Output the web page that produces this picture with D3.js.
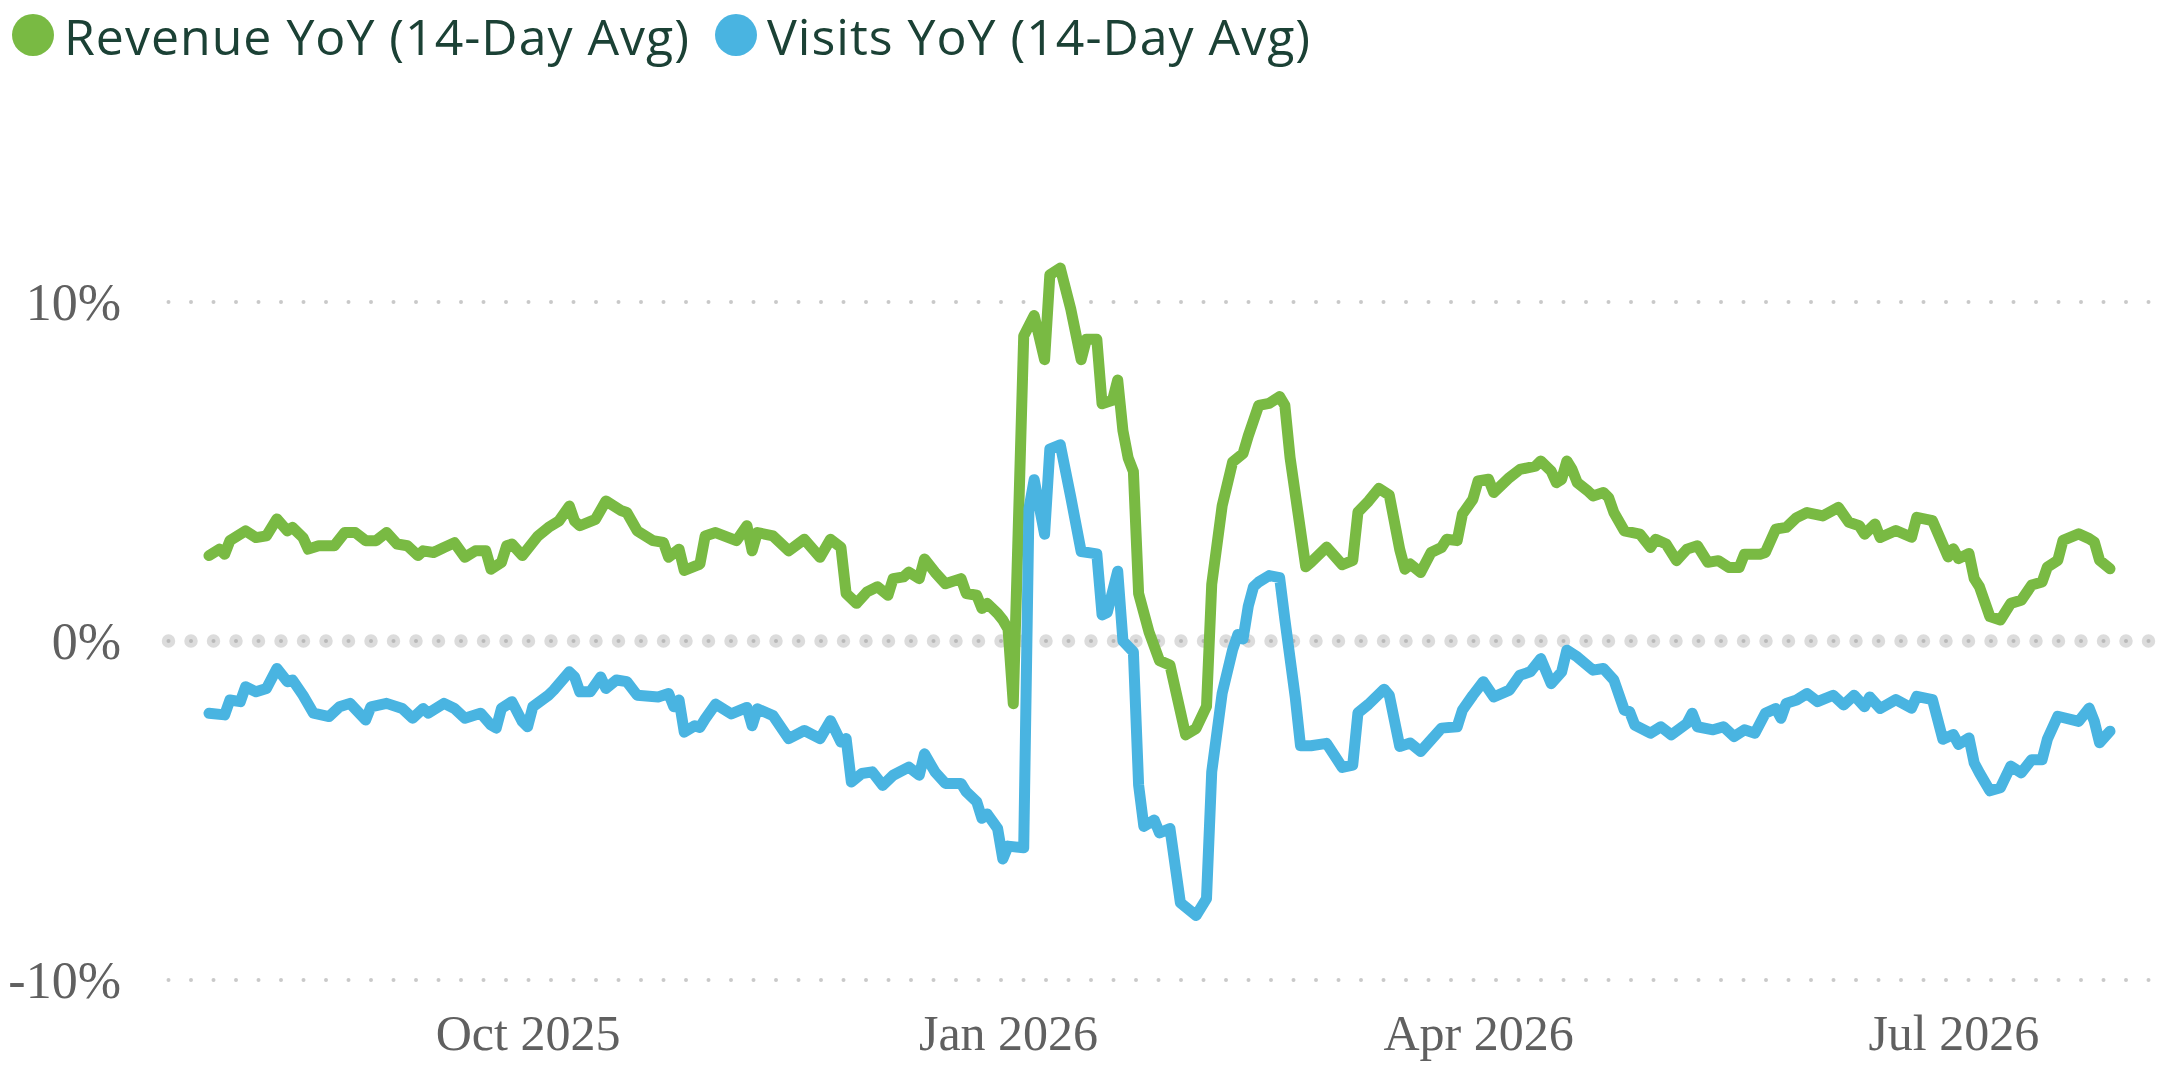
<!DOCTYPE html>
<html>
<head>
<meta charset="utf-8">
<script src="https://cdn.jsdelivr.net/npm/d3@7"></script>
<style>
  body { margin: 0; background: #fff; }
  svg { display: block; }
</style>
</head>
<body>
<svg id="chart" width="2170" height="1078"></svg>
<script>
// series: [date, YoY %]
const revenue = [
  ["2025-08-01", 2.52], ["2025-08-03", 2.71], ["2025-08-04", 2.56], ["2025-08-05", 2.96],
  ["2025-08-08", 3.25], ["2025-08-10", 3.05], ["2025-08-12", 3.10], ["2025-08-14", 3.60],
  ["2025-08-16", 3.25], ["2025-08-17", 3.35], ["2025-08-19", 3.05], ["2025-08-20", 2.71],
  ["2025-08-22", 2.81], ["2025-08-25", 2.81], ["2025-08-27", 3.20], ["2025-08-29", 3.20],
  ["2025-08-31", 2.96], ["2025-09-02", 2.96], ["2025-09-04", 3.20], ["2025-09-06", 2.86],
  ["2025-09-08", 2.81], ["2025-09-10", 2.52], ["2025-09-11", 2.66], ["2025-09-13", 2.61],
  ["2025-09-15", 2.76], ["2025-09-17", 2.90], ["2025-09-19", 2.47], ["2025-09-21", 2.66],
  ["2025-09-23", 2.66], ["2025-09-24", 2.12], ["2025-09-26", 2.32], ["2025-09-27", 2.81],
  ["2025-09-28", 2.86], ["2025-09-30", 2.52], ["2025-10-03", 3.10], ["2025-10-05", 3.35],
  ["2025-10-07", 3.54], ["2025-10-09", 3.98], ["2025-10-10", 3.54], ["2025-10-11", 3.40],
  ["2025-10-14", 3.59], ["2025-10-16", 4.13], ["2025-10-19", 3.84], ["2025-10-20", 3.79],
  ["2025-10-22", 3.25], ["2025-10-25", 2.96], ["2025-10-27", 2.91], ["2025-10-28", 2.47],
  ["2025-10-30", 2.71], ["2025-10-31", 2.08], ["2025-11-03", 2.27], ["2025-11-04", 3.10],
  ["2025-11-06", 3.20], ["2025-11-10", 2.96], ["2025-11-12", 3.40], ["2025-11-13", 2.66],
  ["2025-11-14", 3.20], ["2025-11-17", 3.10], ["2025-11-20", 2.66], ["2025-11-23", 3.00],
  ["2025-11-26", 2.47], ["2025-11-28", 3.00], ["2025-11-30", 2.76], ["2025-12-01", 1.40],
  ["2025-12-03", 1.11], ["2025-12-05", 1.45], ["2025-12-07", 1.60], ["2025-12-09", 1.35],
  ["2025-12-10", 1.84], ["2025-12-12", 1.89], ["2025-12-13", 2.03], ["2025-12-15", 1.84],
  ["2025-12-16", 2.42], ["2025-12-18", 2.03], ["2025-12-20", 1.69], ["2025-12-23", 1.84],
  ["2025-12-24", 1.40], ["2025-12-26", 1.35], ["2025-12-27", 0.96], ["2025-12-28", 1.11],
  ["2025-12-30", 0.81], ["2025-12-31", 0.62], ["2026-01-01", 0.35], ["2026-01-02", -1.85],
  ["2026-01-04", 9.00], ["2026-01-06", 9.60], ["2026-01-08", 8.30], ["2026-01-09", 10.80],
  ["2026-01-11", 11.00], ["2026-01-13", 9.80], ["2026-01-15", 8.30], ["2026-01-16", 8.90],
  ["2026-01-18", 8.90], ["2026-01-19", 7.00], ["2026-01-21", 7.10], ["2026-01-22", 7.70],
  ["2026-01-23", 6.20], ["2026-01-24", 5.40], ["2026-01-25", 5.00], ["2026-01-26", 1.40],
  ["2026-01-28", 0.26], ["2026-01-30", -0.58], ["2026-02-01", -0.71], ["2026-02-04", -2.77],
  ["2026-02-06", -2.58], ["2026-02-08", -1.93], ["2026-02-09", 1.67], ["2026-02-11", 3.99],
  ["2026-02-13", 5.28], ["2026-02-15", 5.53], ["2026-02-16", 6.05], ["2026-02-18", 6.95],
  ["2026-02-20", 7.01], ["2026-02-22", 7.21], ["2026-02-23", 6.95], ["2026-02-24", 5.41],
  ["2026-02-27", 2.19], ["2026-02-28", 2.32], ["2026-03-03", 2.77], ["2026-03-06", 2.25],
  ["2026-03-08", 2.38], ["2026-03-09", 3.80], ["2026-03-11", 4.12], ["2026-03-13", 4.50],
  ["2026-03-15", 4.30], ["2026-03-17", 2.70], ["2026-03-18", 2.12], ["2026-03-19", 2.27],
  ["2026-03-21", 2.02], ["2026-03-23", 2.61], ["2026-03-25", 2.76], ["2026-03-26", 3.00],
  ["2026-03-28", 2.96], ["2026-03-29", 3.74], ["2026-03-31", 4.18], ["2026-04-01", 4.72],
  ["2026-04-03", 4.77], ["2026-04-04", 4.38], ["2026-04-07", 4.82], ["2026-04-09", 5.06],
  ["2026-04-12", 5.16], ["2026-04-13", 5.31], ["2026-04-15", 5.01], ["2026-04-16", 4.67],
  ["2026-04-17", 4.77], ["2026-04-18", 5.31], ["2026-04-19", 5.06], ["2026-04-20", 4.67],
  ["2026-04-22", 4.43], ["2026-04-23", 4.28], ["2026-04-25", 4.38], ["2026-04-26", 4.23],
  ["2026-04-27", 3.79], ["2026-04-29", 3.25], ["2026-05-02", 3.15], ["2026-05-04", 2.76],
  ["2026-05-05", 3.00], ["2026-05-07", 2.86], ["2026-05-09", 2.37], ["2026-05-11", 2.71],
  ["2026-05-13", 2.81], ["2026-05-15", 2.32], ["2026-05-17", 2.37], ["2026-05-19", 2.17],
  ["2026-05-21", 2.17], ["2026-05-22", 2.56], ["2026-05-25", 2.56], ["2026-05-26", 2.61],
  ["2026-05-28", 3.30], ["2026-05-30", 3.35], ["2026-06-01", 3.64], ["2026-06-03", 3.79],
  ["2026-06-06", 3.69], ["2026-06-09", 3.94], ["2026-06-11", 3.50], ["2026-06-13", 3.40],
  ["2026-06-14", 3.15], ["2026-06-16", 3.45], ["2026-06-17", 3.05], ["2026-06-20", 3.26],
  ["2026-06-23", 3.06], ["2026-06-24", 3.65], ["2026-06-27", 3.55], ["2026-06-30", 2.48],
  ["2026-07-01", 2.72], ["2026-07-02", 2.43], ["2026-07-04", 2.58], ["2026-07-05", 1.84],
  ["2026-07-06", 1.60], ["2026-07-08", 0.72], ["2026-07-10", 0.62], ["2026-07-12", 1.11],
  ["2026-07-14", 1.20], ["2026-07-16", 1.65], ["2026-07-18", 1.74], ["2026-07-19", 2.18],
  ["2026-07-21", 2.38], ["2026-07-22", 2.97], ["2026-07-25", 3.16], ["2026-07-27", 3.02],
  ["2026-07-28", 2.92], ["2026-07-29", 2.38], ["2026-07-31", 2.13]
]

const visits = [
  ["2025-08-01", -2.13], ["2025-08-04", -2.18], ["2025-08-05", -1.74], ["2025-08-07", -1.79],
  ["2025-08-08", -1.35], ["2025-08-10", -1.50], ["2025-08-12", -1.40], ["2025-08-14", -0.81],
  ["2025-08-16", -1.20], ["2025-08-17", -1.15], ["2025-08-19", -1.60], ["2025-08-21", -2.13],
  ["2025-08-24", -2.23], ["2025-08-26", -1.94], ["2025-08-28", -1.84], ["2025-08-31", -2.33],
  ["2025-09-01", -1.94], ["2025-09-04", -1.84], ["2025-09-07", -1.99], ["2025-09-09", -2.28],
  ["2025-09-11", -1.99], ["2025-09-12", -2.13], ["2025-09-15", -1.84], ["2025-09-17", -1.99],
  ["2025-09-19", -2.28], ["2025-09-22", -2.13], ["2025-09-24", -2.48], ["2025-09-25", -2.57],
  ["2025-09-26", -1.99], ["2025-09-28", -1.79], ["2025-09-30", -2.38], ["2025-10-01", -2.53],
  ["2025-10-02", -1.94], ["2025-10-05", -1.60], ["2025-10-06", -1.45], ["2025-10-09", -0.91],
  ["2025-10-10", -1.06], ["2025-10-11", -1.50], ["2025-10-13", -1.50], ["2025-10-15", -1.06],
  ["2025-10-16", -1.40], ["2025-10-18", -1.15], ["2025-10-20", -1.20], ["2025-10-22", -1.60],
  ["2025-10-26", -1.65], ["2025-10-28", -1.55], ["2025-10-29", -1.94], ["2025-10-30", -1.74],
  ["2025-10-31", -2.69], ["2025-11-02", -2.50], ["2025-11-03", -2.55], ["2025-11-04", -2.30],
  ["2025-11-06", -1.86], ["2025-11-09", -2.15], ["2025-11-12", -1.96], ["2025-11-13", -2.50],
  ["2025-11-14", -2.00], ["2025-11-17", -2.20], ["2025-11-20", -2.88], ["2025-11-23", -2.64],
  ["2025-11-26", -2.88], ["2025-11-28", -2.35], ["2025-11-30", -2.98], ["2025-12-01", -2.88],
  ["2025-12-02", -4.16], ["2025-12-04", -3.91], ["2025-12-06", -3.86], ["2025-12-08", -4.26],
  ["2025-12-10", -3.96], ["2025-12-13", -3.72], ["2025-12-15", -3.96], ["2025-12-16", -3.33],
  ["2025-12-18", -3.86], ["2025-12-20", -4.20], ["2025-12-23", -4.20], ["2025-12-24", -4.45],
  ["2025-12-26", -4.74], ["2025-12-27", -5.23], ["2025-12-28", -5.10], ["2025-12-30", -5.53],
  ["2025-12-31", -6.43], ["2026-01-01", -6.05], ["2026-01-04", -6.10], ["2026-01-05", 3.90],
  ["2026-01-06", 4.76], ["2026-01-08", 3.15], ["2026-01-09", 5.66], ["2026-01-11", 5.79],
  ["2026-01-13", 4.25], ["2026-01-15", 2.64], ["2026-01-18", 2.57], ["2026-01-19", 0.77],
  ["2026-01-20", 0.84], ["2026-01-22", 2.06], ["2026-01-23", 0.00], ["2026-01-25", -0.32],
  ["2026-01-26", -4.25], ["2026-01-27", -5.47], ["2026-01-29", -5.28], ["2026-01-30", -5.66],
  ["2026-02-01", -5.53], ["2026-02-03", -7.72], ["2026-02-06", -8.10], ["2026-02-08", -7.60],
  ["2026-02-09", -3.86], ["2026-02-11", -1.54], ["2026-02-13", -0.26], ["2026-02-14", 0.19],
  ["2026-02-15", 0.06], ["2026-02-16", 1.03], ["2026-02-17", 1.60], ["2026-02-18", 1.74],
  ["2026-02-20", 1.93], ["2026-02-22", 1.87], ["2026-02-23", 0.64], ["2026-02-25", -1.67],
  ["2026-02-26", -3.09], ["2026-02-28", -3.09], ["2026-03-03", -3.02], ["2026-03-06", -3.73],
  ["2026-03-08", -3.66], ["2026-03-09", -2.12], ["2026-03-11", -1.87], ["2026-03-14", -1.42],
  ["2026-03-15", -1.60], ["2026-03-17", -3.11], ["2026-03-19", -3.01], ["2026-03-21", -3.26],
  ["2026-03-25", -2.57], ["2026-03-28", -2.53], ["2026-03-29", -2.04], ["2026-03-31", -1.60],
  ["2026-04-02", -1.20], ["2026-04-04", -1.65], ["2026-04-07", -1.45], ["2026-04-09", -1.01],
  ["2026-04-11", -0.91], ["2026-04-13", -0.52], ["2026-04-15", -1.26], ["2026-04-17", -0.91],
  ["2026-04-18", -0.27], ["2026-04-20", -0.47], ["2026-04-23", -0.86], ["2026-04-25", -0.81],
  ["2026-04-27", -1.15], ["2026-04-29", -2.04], ["2026-04-30", -2.08], ["2026-05-01", -2.48],
  ["2026-05-04", -2.72], ["2026-05-06", -2.53], ["2026-05-08", -2.77], ["2026-05-11", -2.43],
  ["2026-05-12", -2.13], ["2026-05-13", -2.53], ["2026-05-16", -2.62], ["2026-05-18", -2.53],
  ["2026-05-20", -2.82], ["2026-05-22", -2.62], ["2026-05-24", -2.72], ["2026-05-26", -2.13],
  ["2026-05-28", -1.99], ["2026-05-29", -2.28], ["2026-05-30", -1.84], ["2026-06-01", -1.74],
  ["2026-06-03", -1.55], ["2026-06-05", -1.79], ["2026-06-08", -1.60], ["2026-06-10", -1.89],
  ["2026-06-12", -1.60], ["2026-06-14", -1.94], ["2026-06-15", -1.65], ["2026-06-17", -1.99],
  ["2026-06-20", -1.73], ["2026-06-23", -1.98], ["2026-06-24", -1.63], ["2026-06-27", -1.73],
  ["2026-06-29", -2.90], ["2026-07-01", -2.76], ["2026-07-02", -3.05], ["2026-07-04", -2.86],
  ["2026-07-05", -3.60], ["2026-07-06", -3.89], ["2026-07-08", -4.42], ["2026-07-10", -4.33],
  ["2026-07-12", -3.69], ["2026-07-14", -3.89], ["2026-07-16", -3.50], ["2026-07-18", -3.50],
  ["2026-07-19", -2.90], ["2026-07-21", -2.22], ["2026-07-25", -2.37], ["2026-07-27", -1.98],
  ["2026-07-28", -2.37], ["2026-07-29", -3.00], ["2026-07-31", -2.66]
]

const seriesNames = ["Revenue YoY (14-Day Avg)", "Visits YoY (14-Day Avg)"]
const seriesColors = ["#79ba43", "#49b4e1"]
const yTicks = [-10, 0, 10]
const xTicks = ["2025-10-01", "2026-01-01", "2026-04-01", "2026-07-01"]

const parse = d3.timeParse("%Y-%m-%d")
const svg = d3.select("#chart")

const x = d3.scaleTime()
  .domain([parse("2025-08-01"), parse("2026-07-31")])
  .range([209, 2110])
const y = d3.scaleLinear().domain([-10, 10]).range([980, 302])

// dotted grid
const grid = svg.append("g")
yTicks.forEach(t => {
  if (t === 0) {
    grid.append("line")
      .attr("x1", 168.5).attr("x2", 2150).attr("y1", y(t)).attr("y2", y(t))
      .attr("stroke", "#dcdcdc").attr("stroke-width", 13.5)
      .attr("stroke-linecap", "round").attr("stroke-dasharray", "0 22.5")
  }
  grid.append("line")
    .attr("x1", 168.5).attr("x2", 2150).attr("y1", y(t)).attr("y2", y(t))
    .attr("stroke", t === 0 ? "#b9b9b9" : "#c9c9c9").attr("stroke-width", 4)
    .attr("stroke-linecap", "round").attr("stroke-dasharray", "0 22.5")
})

// axes, labels only
const yAxis = svg.append("g")
  .attr("transform", "translate(121,0)")
  .call(d3.axisLeft(y).tickValues(yTicks).tickSize(0).tickPadding(0).tickFormat(d => d + "%"))
yAxis.select(".domain").remove()
yAxis.selectAll("text")
  .attr("font-family", "'Liberation Serif', serif").attr("font-size", 52)
  .attr("fill", "#606060").attr("dy", "0.33em")
  .style("font-variant-numeric", "oldstyle-nums")

const xAxis = svg.append("g")
  .attr("transform", "translate(0,1014)")
  .call(d3.axisBottom(x).tickValues(xTicks.map(parse)).tickSize(0).tickPadding(0)
    .tickFormat(d3.timeFormat("%b %Y")))
xAxis.select(".domain").remove()
xAxis.selectAll("text")
  .attr("font-family", "'Liberation Serif', serif").attr("font-size", 50)
  .attr("fill", "#606060").attr("dy", "0.71em")

// lines
const line = d3.line()
  .x(d => x(parse(d[0])))
  .y(d => y(d[1]))

;[revenue, visits].forEach((s, i) => {
  svg.append("path")
    .datum(s)
    .attr("d", line)
    .attr("fill", "none")
    .attr("stroke", seriesColors[i])
    .attr("stroke-width", 11)
    .attr("stroke-linejoin", "round")
    .attr("stroke-linecap", "round")
})

// legend
const legendX = [33, 736]
const legend = svg.append("g")
seriesNames.forEach((name, i) => {
  legend.append("circle")
    .attr("cx", legendX[i]).attr("cy", 35).attr("r", 21)
    .attr("fill", seriesColors[i])
  legend.append("text")
    .attr("x", legendX[i] + 31).attr("y", 55)
    .attr("font-family", "'Open Sans', sans-serif").attr("font-size", 50)
    .attr("letter-spacing", 1)
    .attr("fill", "#1b4135")
    .text(name)
})
</script>
</body>
</html>
